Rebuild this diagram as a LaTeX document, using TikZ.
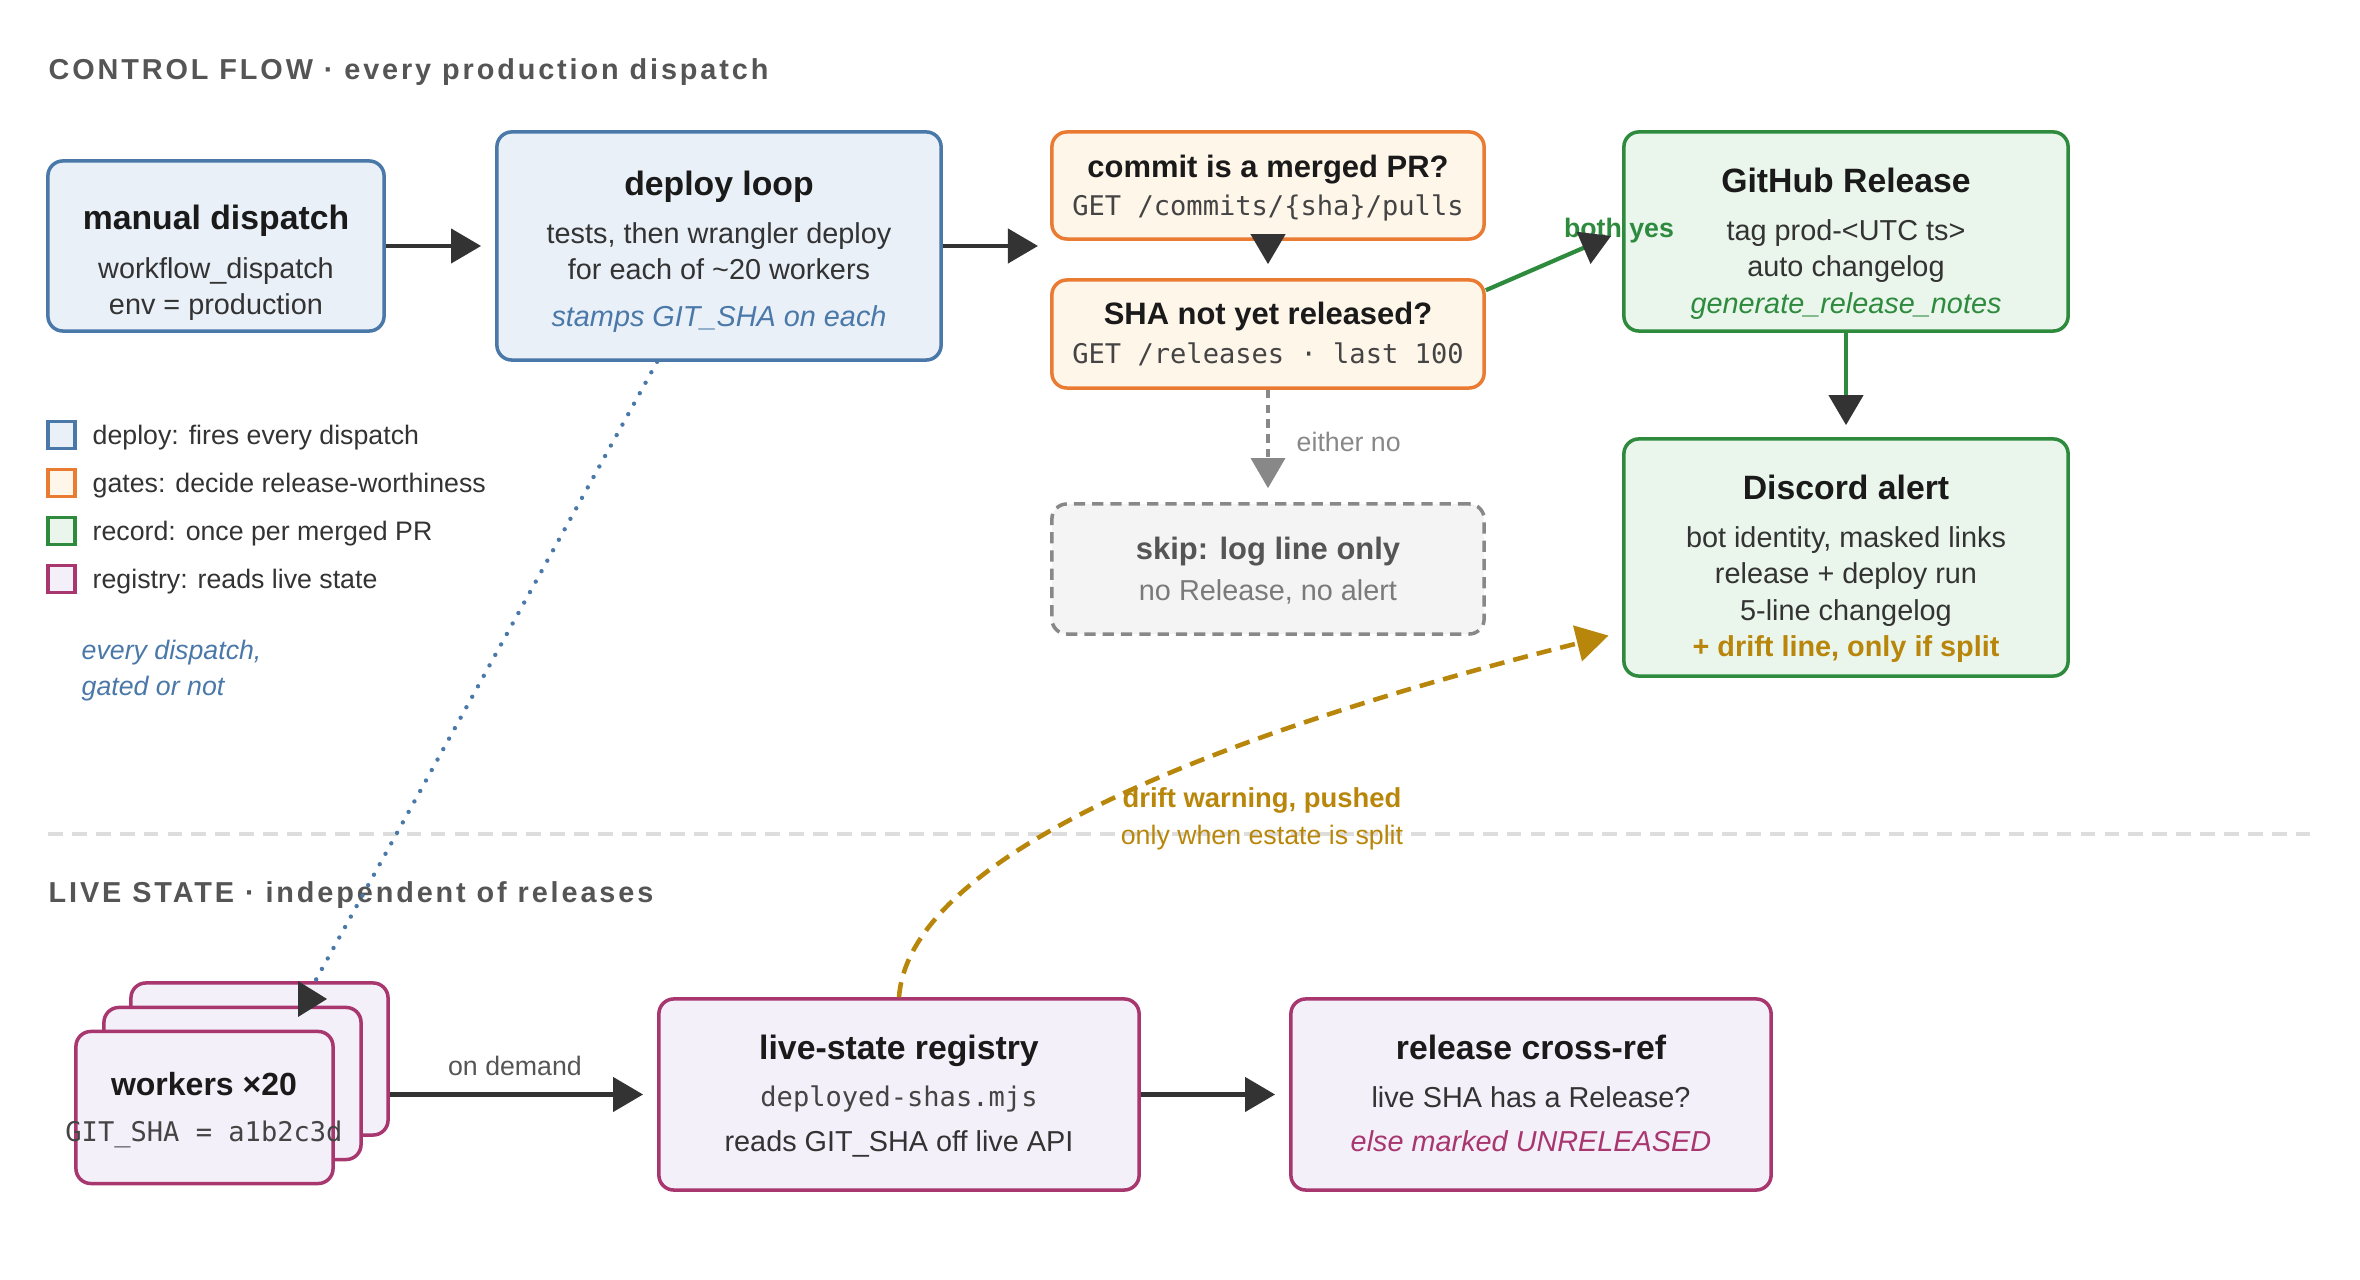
\documentclass[tikz,border=0pt]{standalone}
\usepackage{fontspec}
\setmainfont{Liberation Sans}
\setmonofont{DejaVu Sans Mono}
\newfontfamily\headfont[LetterSpace=10]{Liberation Sans}
\usetikzlibrary{arrows.meta,calc}
\definecolor{bluebd}{HTML}{4A78A8}
\definecolor{bluefill}{HTML}{EAF0F8}
\definecolor{orbd}{HTML}{E97B33}
\definecolor{orfill}{HTML}{FFF6EA}
\definecolor{grbd}{HTML}{2E8B3E}
\definecolor{grfill}{HTML}{EAF5EC}
\definecolor{pubd}{HTML}{A8366F}
\definecolor{pufill}{HTML}{F4F0F9}
\definecolor{goldc}{HTML}{B8860B}
\definecolor{darkc}{HTML}{333333}
\definecolor{ttlc}{HTML}{1A1A1A}
\definecolor{bodyc}{HTML}{333333}
\definecolor{headc}{HTML}{555555}
\definecolor{grayln}{HTML}{888888}
\definecolor{skipfill}{HTML}{F4F4F4}
\definecolor{sepc}{HTML}{DDDDDD}
\definecolor{monoc}{HTML}{444444}
\begin{document}
\begin{tikzpicture}[x=0.01cm,y=-0.01cm,
  box/.style={draw, rounded corners=0.15cm, line width=1pt, inner sep=0},
  bluebox/.style={box, draw=bluebd, fill=bluefill},
  orbox/.style={box, draw=orbd, fill=orfill},
  grbox/.style={box, draw=grbd, fill=grfill},
  pubox/.style={box, draw=pubd, fill=pufill},
  skipbox/.style={box, draw=grayln, fill=skipfill, dash pattern=on 3.2pt off 2pt},
  ttl/.style={font=\fontsize{9.6}{11.5}\selectfont\bfseries, text=ttlc, inner sep=0, text height=6.9pt, text depth=2pt, yshift=-0.03cm},
  gttl/.style={ttl, font=\fontsize{8.8}{10.5}\selectfont\bfseries},
  bdy/.style={font=\fontsize{8.2}{10}\selectfont, text=bodyc, inner sep=0, text height=5.9pt, text depth=1.7pt, yshift=-0.03cm},
  mon/.style={font=\fontsize{7.7}{9}\selectfont\ttfamily, text=monoc, inner sep=0, text height=5.5pt, text depth=1.6pt, yshift=-0.03cm},
  lbl/.style={font=\fontsize{7.6}{9}\selectfont, inner sep=0, text height=5.5pt, text depth=1.6pt, yshift=-0.03cm},
  hdr/.style={font=\headfont\fontsize{8.2}{10}\selectfont\bfseries, text=headc, anchor=west, inner sep=0, yshift=-0.03cm},
  leg/.style={draw, line width=0.9pt, minimum size=0.27cm, inner sep=0},
  arr/.style={draw=darkc, line width=1.2pt, -{Triangle[length=0.3cm,width=0.34cm]}, shorten >=0.14cm},
  grarr/.style={draw=grbd, line width=1.2pt, -{Triangle[length=0.3cm,width=0.34cm,color=darkc]}, shorten >=0.12cm},
  grayarr/.style={draw=grayln, line width=0.9pt, dash pattern=on 2.4pt off 1.8pt, -{Triangle[length=0.3cm,width=0.34cm,color=grayln]}, shorten >=0.14cm},
  goldarr/.style={draw=goldc, line width=1.3pt, dash pattern=on 4.3pt off 2.6pt, -{Triangle[length=0.32cm,width=0.36cm,color=goldc]}, shorten >=0.14cm},
  dotarr/.style={draw=bluebd, line width=1.25pt, line cap=round, dash pattern=on 0pt off 3.4pt},
  sep/.style={draw=sepc, line width=0.9pt, dash pattern=on 4.2pt off 2.6pt}
]
\useasboundingbox (0,0) rectangle (2360,1280);

% separator
\coordinate (sepL) at (48,834);
\coordinate (sepR) at (2310,834);
\draw[sep] (sepL) -- (sepR);

% section headers
\node[hdr] (h1) at (48,69) {CONTROL FLOW · every production dispatch};
\node[hdr] (h2) at (48,892) {LIVE STATE · independent of releases};

% boxes
\node[bluebox, minimum width=3.36cm, minimum height=1.70cm] (md) at (216,246) {};
\node[bluebox, minimum width=4.44cm, minimum height=2.28cm] (dl) at (719,246) {};
\node[orbox, minimum width=4.32cm, minimum height=1.07cm] (cm) at (1268,185.5) {};
\node[orbox, minimum width=4.32cm, minimum height=1.08cm] (sha) at (1268,334) {};
\node[skipbox, minimum width=4.32cm, minimum height=1.30cm] (skip) at (1268,569) {};
\node[grbox, minimum width=4.44cm, minimum height=1.99cm] (gh) at (1846,231.5) {};
\node[grbox, minimum width=4.44cm, minimum height=2.37cm] (dc) at (1846,557.5) {};
\node[pubox, minimum width=2.57cm, minimum height=1.52cm] (wk3) at (259.5,1059) {};
\node[pubox, minimum width=2.57cm, minimum height=1.52cm] (wk2) at (232.5,1083.5) {};
\node[pubox, minimum width=2.57cm, minimum height=1.52cm] (wk1) at (204.5,1107.5) {};
\node[pubox, minimum width=4.80cm, minimum height=1.91cm] (reg) at (899,1094.5) {};
\node[pubox, minimum width=4.80cm, minimum height=1.91cm] (xr) at (1531,1094.5) {};

% texts: manual dispatch
\node[ttl] (md-t) at (216,218) {manual dispatch};
\node[bdy] (md-1) at (216,268) {workflow\_dispatch};
\node[bdy] (md-2) at (216,304) {env = production};
% deploy loop
\node[ttl] (dl-t) at (719,184) {deploy loop};
\node[bdy] (dl-1) at (719,233) {tests, then wrangler deploy};
\node[bdy] (dl-2) at (719,269) {for each of \textasciitilde20 workers};
\node[bdy, text=bluebd, font=\fontsize{8.2}{10}\selectfont\itshape] (dl-3) at (719,316) {stamps GIT\_SHA on each};
% gates
\node[gttl] (cm-t) at (1268,166) {commit is a merged PR?};
\node[mon] (cm-1) at (1268,206) {GET /commits/\{sha\}/pulls};
\node[gttl] (sha-t) at (1268,313) {SHA not yet released?};
\node[mon] (sha-1) at (1268,354) {GET /releases · last 100};
% skip
\node[gttl, text=headc] (skip-t) at (1268,548) {skip: log line only};
\node[bdy, text=grayln!90!black] (skip-1) at (1268,590) {no Release, no alert};
% GitHub release
\node[ttl] (gh-t) at (1846,181) {GitHub Release};
\node[bdy] (gh-1) at (1846,230) {tag prod-<UTC ts>};
\node[bdy] (gh-2) at (1846,266) {auto changelog};
\node[bdy, text=grbd, font=\fontsize{8.2}{10}\selectfont\itshape] (gh-3) at (1846,303) {generate\_release\_notes};
% Discord
\node[ttl] (dc-t) at (1846,488) {Discord alert};
\node[bdy] (dc-1) at (1846,537) {bot identity, masked links};
\node[bdy] (dc-2) at (1846,573) {release + deploy run};
\node[bdy] (dc-3) at (1846,610) {5-line changelog};
\node[bdy, text=goldc, font=\fontsize{8.2}{10}\selectfont\bfseries] (dc-4) at (1846,646) {+ drift line, only if split};
% workers
\node[ttl, font=\fontsize{9.1}{11}\selectfont\bfseries] (wk-t) at (204,1084) {workers ×20};
\node[mon] (wk-1) at (204,1132) {GIT\_SHA = a1b2c3d};
% registry
\node[ttl] (reg-t) at (899,1048) {live-state registry};
\node[mon] (reg-1) at (899,1097) {deployed-shas.mjs};
\node[bdy] (reg-2) at (899,1141) {reads GIT\_SHA off live API};
% cross-ref
\node[ttl] (xr-t) at (1531,1048) {release cross-ref};
\node[bdy] (xr-1) at (1531,1097) {live SHA has a Release?};
\node[bdy, text=pubd, font=\fontsize{8.2}{10}\selectfont\itshape] (xr-2) at (1531,1141) {else marked UNRELEASED};

% legend
\node[leg, draw=bluebd, fill=bluefill] (lg1) at (61.5,435) {};
\node[leg, draw=orbd, fill=orfill] (lg2) at (61.5,483) {};
\node[leg, draw=grbd, fill=grfill] (lg3) at (61.5,531) {};
\node[leg, draw=pubd, fill=pufill] (lg4) at (61.5,579) {};
\node[lbl, text=bodyc, anchor=west] (lt1) at (92,435) {deploy: fires every dispatch};
\node[lbl, text=bodyc, anchor=west] (lt2) at (92,483) {gates: decide release-worthiness};
\node[lbl, text=bodyc, anchor=west] (lt3) at (92,531) {record: once per merged PR};
\node[lbl, text=bodyc, anchor=west] (lt4) at (92,579) {registry: reads live state};
\node[lbl, text=bluebd, anchor=west, font=\fontsize{7.6}{9}\selectfont\itshape] (ev1) at (81,650) {every dispatch,};
\node[lbl, text=bluebd, anchor=west, font=\fontsize{7.6}{9}\selectfont\itshape] (ev2) at (81,686) {gated or not};

% connector labels
\node[lbl, text=grbd, font=\fontsize{7.6}{9}\selectfont\bfseries] (byes) at (1619,228) {both yes};
\node[lbl, text=grayln, anchor=west] (eno) at (1296,442) {either no};
\node[lbl, text=headc] (ond) at (515,1066) {on demand};
\node[lbl, text=goldc, font=\fontsize{7.8}{9}\selectfont\bfseries] (dw1) at (1262,798) {drift warning, pushed};
\node[lbl, text=goldc] (dw2) at (1262,835) {only when estate is split};

% connectors
\coordinate (gatemid) at (1052,246);
\draw[arr] (md.east) -- (dl.west);
\draw[arr] (dl.east) -- (gatemid);
\draw[arr] (cm.south) -- (sha.north);
\coordinate (shaout) at ($(sha.north east)+(0,12)$);
\coordinate (ghin) at ($(gh.north west)+(0,101)$);
\draw[grarr] (shaout) -- (ghin);
\draw[grarr] (gh.south) -- (dc.north);
\draw[grayarr] (sha.south) -- (skip.north);
\draw[arr] (wk3.east |- reg.west) -- (reg.west);
\draw[arr] (reg.east) -- (xr.west);
\coordinate (dcin) at ($(dc.north west)+(0,195)$);
\draw[goldarr] (reg.north) .. controls (908,873) and (1149,751) .. (dcin);
\coordinate (dlout) at ($(dl.south west)+(162,0)$);
\coordinate (wkin) at ($(wk3.north west)+(186,0)$);
\draw[dotarr] (dlout) -- (wkin);
\coordinate (wtip) at (327,999);
\fill[darkc] (wtip) -- ++(-29,-18) -- ++(0,36) -- cycle;
\end{tikzpicture}
\end{document}
